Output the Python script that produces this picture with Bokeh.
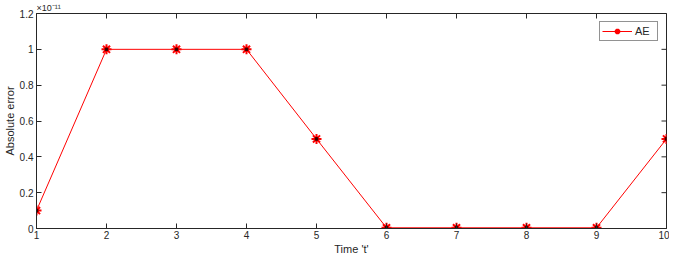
import math
from bokeh.plotting import figure
from bokeh.models import Range1d, Legend, LegendItem, FixedTicker
from bokeh.embed import file_html
from bokeh.resources import INLINE

time_t = [1, 2, 3, 4, 5, 6, 7, 8, 9, 10]
abs_err = [0.1, 1.0, 1.0, 1.0, 0.5, 0.004, 0.004, 0.004, 0.004, 0.5]  # x 1e-11
x_ticks = [1, 2, 3, 4, 5, 6, 7, 8, 9, 10]
y_ticks = [0, 0.2, 0.4, 0.6, 0.8, 1.0, 1.2]
x_max, y_max = 10, 1.2

FONT = "Liberation Sans"
AX = "#262626"

p = figure(width=669, height=257, output_backend="svg", toolbar_location=None,
           x_range=Range1d(1, x_max), y_range=Range1d(0, y_max),
           min_border_left=20, min_border_right=3, min_border_top=2, min_border_bottom=10,
           background_fill_color="white", border_fill_color="white")
p.xgrid.visible = False
p.ygrid.visible = False
p.outline_line_color = AX

p.title.text = "×10⁻¹¹"
p.title.align = "left"
p.title.text_font = FONT
p.title.text_font_size = "9px"
p.title.text_font_style = "normal"
p.title.text_color = AX
p.title.offset = 0
p.title.standoff = 1

for ax in (p.xaxis[0], p.yaxis[0]):
    ax.axis_line_color = AX
    ax.major_tick_line_color = AX
    ax.major_tick_in = 5
    ax.major_tick_out = 0
    ax.minor_tick_line_color = None
    ax.major_label_text_font = FONT
    ax.major_label_text_font_size = "10px"
    ax.major_label_text_color = AX
    ax.major_label_text_line_height = 1.0
    ax.axis_label_text_font = FONT
    ax.axis_label_text_font_size = "11px"
    ax.axis_label_text_font_style = "normal"
    ax.axis_label_text_color = AX
    ax.axis_label_text_line_height = 1.0

p.xaxis.ticker = FixedTicker(ticks=x_ticks)
p.yaxis.ticker = FixedTicker(ticks=y_ticks)
p.xaxis.major_label_overrides = {t: str(t) for t in x_ticks}
p.yaxis.major_label_overrides = {0: "0", 0.2: "0.2", 0.4: "0.4", 0.6: "0.6", 0.8: "0.8", 1.0: "1", 1.2: "1.2"}
p.xaxis.axis_label = "Time 't'"
p.yaxis.axis_label = "Absolute error"
p.xaxis.major_label_standoff = 2
p.xaxis.axis_label_standoff = 1
p.yaxis.major_label_standoff = 3
p.yaxis.axis_label_standoff = 1

# inward ticks on the top and right edges of the box (half of each dash is clipped by the frame)
p.scatter(x_ticks, [y_max] * len(x_ticks), marker="dash", size=10, angle=math.pi / 2,
          line_color=AX, line_width=1)
p.scatter([x_max] * len(y_ticks), y_ticks, marker="dash", size=10,
          line_color=AX, line_width=1)

ln = p.line(time_t, abs_err, line_color="red", line_width=1)
st = p.scatter(time_t, abs_err, marker="asterisk", size=10, line_color="red", line_width=2)
ce = p.scatter(time_t, abs_err, marker="square", size=2.5, fill_color="#330000", line_color="#330000")

leg = Legend(items=[LegendItem(label="AE", renderers=[ln, st])], location="top_right",
             label_text_font=FONT, label_text_font_size="11px", label_text_color=AX,
             border_line_color=AX, border_line_width=1, margin=8, padding=2, spacing=0,
             glyph_width=30, glyph_height=14, label_height=14, label_standoff=3)
p.add_layout(leg)

open("out.html", "w").write(file_html(p, INLINE))
